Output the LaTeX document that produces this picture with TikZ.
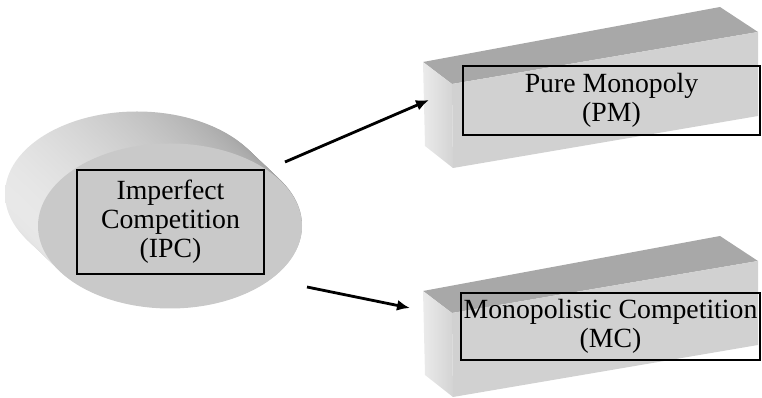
\documentclass[tikz,border=0pt]{standalone}
\usepackage{fontspec}
\setmainfont{Liberation Serif}
\usetikzlibrary{arrows.meta,positioning}

\begin{document}
\begin{tikzpicture}[
    x=0.02cm, y=-0.02cm,
    topface/.style={fill=black!34},
    frontface/.style={fill=black!18},
    endface/.style={left color=black!8, right color=black!17},
    discside/.style={left color=black!9, right color=black!38},
    discfront/.style={fill=black!21},
    lblbox/.style={draw, line width=0.9pt, inner sep=0pt, align=center, font=\fontsize{15.8}{16.5}\selectfont},
    arr/.style={-{Latex[length=2.6mm,width=2.2mm]}, line width=1.6pt}
]
\useasboundingbox (0,0) rectangle (762,398);

% disc
\foreach \s in {0,...,33}
  \shade[discside] (137+\s,194+0.95*\s) ellipse [x radius=132, y radius=82.5];
\fill[discfront] (170,226) ellipse [x radius=132, y radius=82.5];
\node[lblbox, minimum width=3.74cm, minimum height=2.08cm] (ipc) at (170.5,222) {Imperfect\\Competition\\(IPC)};

% bars
\foreach \dy in {0,229} {
  \begin{scope}[shift={(0,\dy)}]
    \fill[topface] (423,62) -- (720,7) -- (758,32) -- (452,84) -- cycle;
    \fill[frontface] (452,84) -- (758,32) -- (758,116) -- (453,168) -- cycle;
    \shade[endface] (423,62) -- (452,84) -- (453,168) -- (425,146) -- cycle;
  \end{scope}
}
\node[lblbox, minimum width=5.94cm, minimum height=1.38cm] (pm) at (611.5,100.5) {Pure Monopoly\\(PM)};
\node[lblbox, minimum width=5.98cm, minimum height=1.34cm] (mc) at (610.5,326.5) {Monopolistic Competition\\(MC)};

\coordinate (ipc-up) at (285,162);
\coordinate (ipc-down) at (307,287);
\coordinate (pm-in) at (429,100);
\coordinate (mc-in) at (410,308);
\draw[arr] (ipc-up) -- (pm-in);
\draw[arr] (ipc-down) -- (mc-in);
\end{tikzpicture}
\end{document}
